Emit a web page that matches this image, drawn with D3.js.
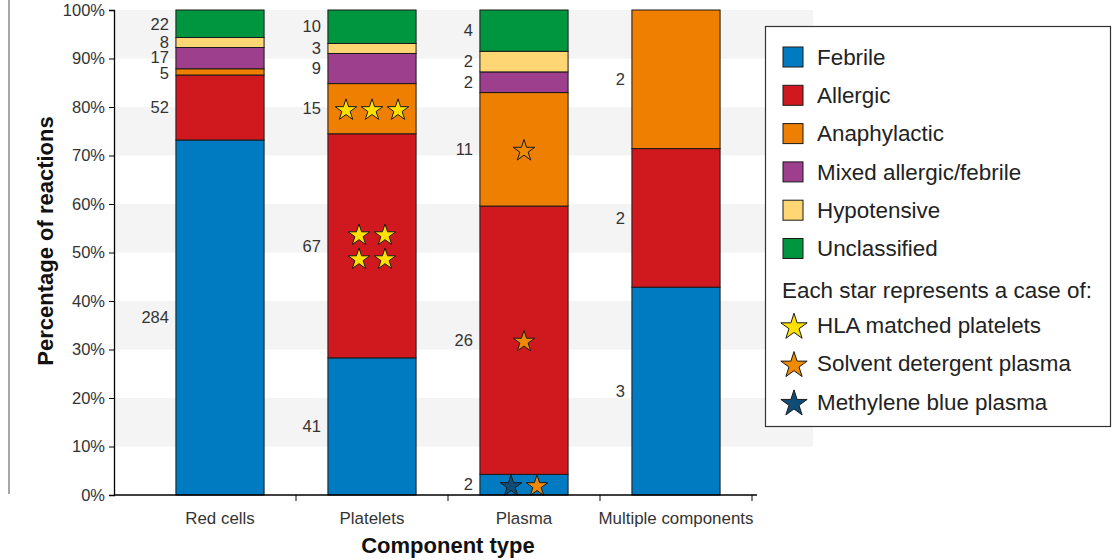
<!DOCTYPE html>
<html>
<head>
<meta charset="utf-8">
<script src="https://cdn.jsdelivr.net/npm/d3@7/dist/d3.min.js"></script>
<style>
  html, body { margin: 0; padding: 0; background: #fff; }
  svg { display: block; font-family: "Liberation Sans", Arial, Helvetica, sans-serif; }
</style>
</head>
<body>
<svg id="chart" width="1112" height="560"></svg>
<script>
// ---- Data ----
const components = ["Red cells", "Platelets", "Plasma", "Multiple components"];
const reactionTypes = ["Febrile", "Allergic", "Anaphylactic", "Mixed allergic/febrile", "Hypotensive", "Unclassified"];
const reactionColors = ["#007bc2", "#d0191f", "#ef7f00", "#9d3f8c", "#fed673", "#00963f"];
// counts per component, in reactionTypes order
const redCells   = [284, 52, 5, 17, 8, 22];
const platelets  = [41, 67, 15, 9, 3, 10];
const plasma     = [2, 26, 11, 2, 2, 4];
const multiple   = [3, 2, 2, 0, 0, 0];
const yTicks = [0, 10, 20, 30, 40, 50, 60, 70, 80, 90, 100];

const starTypes = ["HLA matched platelets", "Solvent detergent plasma", "Methylene blue plasma"];
const starColors = ["#ffe100", "#f08a00", "#0f4c77"];
// each star = one case
const starCases = [
  { component: "Platelets", reaction: "Anaphylactic", types: [0, 0, 0] },
  { component: "Platelets", reaction: "Allergic", types: [0, 0, 0, 0] },
  { component: "Plasma", reaction: "Anaphylactic", types: [1] },
  { component: "Plasma", reaction: "Allergic", types: [1] },
  { component: "Plasma", reaction: "Febrile", types: [2, 1] }
];

// ---- Build table ----
const counts = { "Red cells": redCells, "Platelets": platelets, "Plasma": plasma, "Multiple components": multiple };
const table = components.map(c => {
  const row = { component: c };
  reactionTypes.forEach((r, i) => row[r] = counts[c][i]);
  return row;
});
const normalized = table.map(row => {
  const total = reactionTypes.reduce((s, r) => s + row[r], 0);
  const o = { component: row.component, total };
  reactionTypes.forEach(r => o[r] = row[r] / total * 100);
  return o;
});
const series = d3.stack().keys(reactionTypes)(normalized);

// ---- Layout ----
const svg = d3.select("#chart");
const plotLeft = 114, plotRight = 813, plotTop = 10, plotBottom = 495;

const y = d3.scaleLinear().domain([0, 100]).range([plotBottom, plotTop]);
const x = d3.scaleBand().domain(components).range([144, 752]).paddingInner(0.42).paddingOuter(0.21);
const color = d3.scaleOrdinal().domain(reactionTypes).range(reactionColors);

// left frame line
svg.append("line").attr("x1", 9).attr("x2", 9).attr("y1", 0).attr("y2", 494)
  .attr("stroke", "#888").attr("stroke-width", 1.5);

// grey bands
const bands = d3.range(10, 100, 20);
svg.append("g").selectAll("rect").data(bands).join("rect")
  .attr("x", plotLeft).attr("width", plotRight - plotLeft)
  .attr("y", d => y(d + 10)).attr("height", d => y(d) - y(d + 10))
  .attr("fill", "#f4f4f4");

// bars
const barG = svg.append("g");
series.forEach(s => {
  barG.append("g").selectAll("rect").data(s).join("rect")
    .attr("x", d => x(d.data.component))
    .attr("width", x.bandwidth())
    .attr("y", d => y(d[1]))
    .attr("height", d => y(d[0]) - y(d[1]))
    .attr("fill", color(s.key))
    .attr("stroke", "#1a1a1a")
    .attr("stroke-width", 1)
    .style("display", d => (d[1] - d[0]) > 0 ? null : "none");
});

// count labels (segment centres, nudged apart when crowded)
const labelG = svg.append("g").attr("font-size", 16.5).attr("fill", "#333");
components.forEach(c => {
  const labs = [];
  series.forEach((s, si) => {
    const d = s.find(e => e.data.component === c);
    const v = counts[c][si];
    if (v) labs.push({ v, yy: y((d[0] + d[1]) / 2) });
  });
  // labs ordered bottom to top (decreasing y); relax overlaps
  const gap = 15.5;
  for (let it = 0; it < 20; it++) {
    for (let i = 1; i < labs.length; i++) {
      const diff = labs[i - 1].yy - labs[i].yy;
      if (diff < gap) {
        const push = (gap - diff) / 2;
        labs[i - 1].yy += push;
        labs[i].yy -= push;
      }
    }
  }
  labs.forEach(l => {
    labelG.append("text")
      .attr("x", x(c) - 7)
      .attr("y", l.yy)
      .attr("dy", "0.35em")
      .attr("text-anchor", "end")
      .text(l.v);
  });
});

// stars
const starSym = d3.symbol().type(d3.symbolStar);
const starG = svg.append("g");
starCases.forEach(g => {
  const si = reactionTypes.indexOf(g.reaction);
  const seg = series[si].find(d => d.data.component === g.component);
  const cx = x(g.component) + x.bandwidth() / 2;
  const cy = y((seg[0] + seg[1]) / 2);
  const n = g.types.length;
  const cols = n <= 3 ? n : Math.ceil(Math.sqrt(n));
  const rows = Math.ceil(n / cols);
  const dx = 26, dy = 24;
  g.types.forEach((t, i) => {
    const col = i % cols, row = Math.floor(i / cols);
    const sx = cx + (col - (cols - 1) / 2) * dx;
    const sy = cy + (row - (rows - 1) / 2) * dy;
    starG.append("path")
      .attr("d", starSym.size(145)())
      .attr("transform", `translate(${sx},${sy + 1.5})`)
      .attr("fill", starColors[t])
      .attr("stroke", "#1a1a1a")
      .attr("stroke-width", 1);
  });
});

// y axis
const yAxis = svg.append("g").attr("transform", `translate(${plotLeft},0)`)
  .call(d3.axisLeft(y).tickValues(yTicks).tickSize(5).tickPadding(4).tickFormat(d => d + "%"));
yAxis.select(".domain").attr("stroke", "#000").attr("stroke-width", 1.3);
yAxis.selectAll(".tick line").attr("stroke", "#000");
yAxis.selectAll("text").attr("font-size", 16.5).attr("fill", "#333")
  .attr("font-family", "'Liberation Sans', Arial, sans-serif");

// x axis
const xAxisG = svg.append("g");
xAxisG.append("line").attr("x1", plotLeft).attr("x2", 757)
  .attr("y1", plotBottom).attr("y2", plotBottom).attr("stroke", "#000").attr("stroke-width", 1.3);
const step = x.step();
const sepTicks = components.map(c => x(c) + x.bandwidth() / 2 + step / 2);
xAxisG.selectAll("line.t").data(sepTicks).join("line").attr("class", "t")
  .attr("x1", d => d).attr("x2", d => d).attr("y1", plotBottom).attr("y2", plotBottom + 6)
  .attr("stroke", "#000").attr("stroke-width", 1);
xAxisG.selectAll("text").data(components).join("text")
  .attr("x", d => x(d) + x.bandwidth() / 2)
  .attr("y", 524)
  .attr("text-anchor", "middle")
  .attr("font-size", 16.9).attr("fill", "#333")
  .text(d => d);

// axis titles
svg.append("text").attr("x", 448).attr("y", 553).attr("text-anchor", "middle")
  .attr("font-size", 22).attr("font-weight", "bold").attr("fill", "#111")
  .text("Component type");
svg.append("text").attr("transform", "translate(53,241) rotate(-90)").attr("text-anchor", "middle")
  .attr("font-size", 22).attr("font-weight", "bold").attr("fill", "#111")
  .text("Percentage of reactions");

// legend
const lg = svg.append("g");
lg.append("rect").attr("x", 765.5).attr("y", 26.5).attr("width", 345).attr("height", 400)
  .attr("fill", "#fff").attr("stroke", "#333").attr("stroke-width", 1.2);
const rowY = i => 57 + i * 38.3;
const lf = 22.4;
reactionTypes.forEach((r, i) => {
  lg.append("rect").attr("x", 783).attr("y", rowY(i) - 10).attr("width", 20).attr("height", 20)
    .attr("fill", color(r)).attr("stroke", "#1a1a1a").attr("stroke-width", 1);
  lg.append("text").attr("x", 817).attr("y", rowY(i)).attr("dy", "0.35em")
    .attr("font-size", lf).attr("fill", "#222").text(r);
});
lg.append("text").attr("x", 782).attr("y", rowY(6) + 3).attr("dy", "0.35em")
  .attr("font-size", lf).attr("fill", "#222").text("Each star represents a case of:");
starTypes.forEach((s, i) => {
  const yy = rowY(7 + i);
  lg.append("path").attr("d", starSym.size(215)())
    .attr("transform", `translate(794,${yy + 2})`)
    .attr("fill", starColors[i]).attr("stroke", "#1a1a1a").attr("stroke-width", 1);
  lg.append("text").attr("x", 817).attr("y", yy).attr("dy", "0.35em")
    .attr("font-size", lf).attr("fill", "#222").text(s);
});
</script>
</body>
</html>
